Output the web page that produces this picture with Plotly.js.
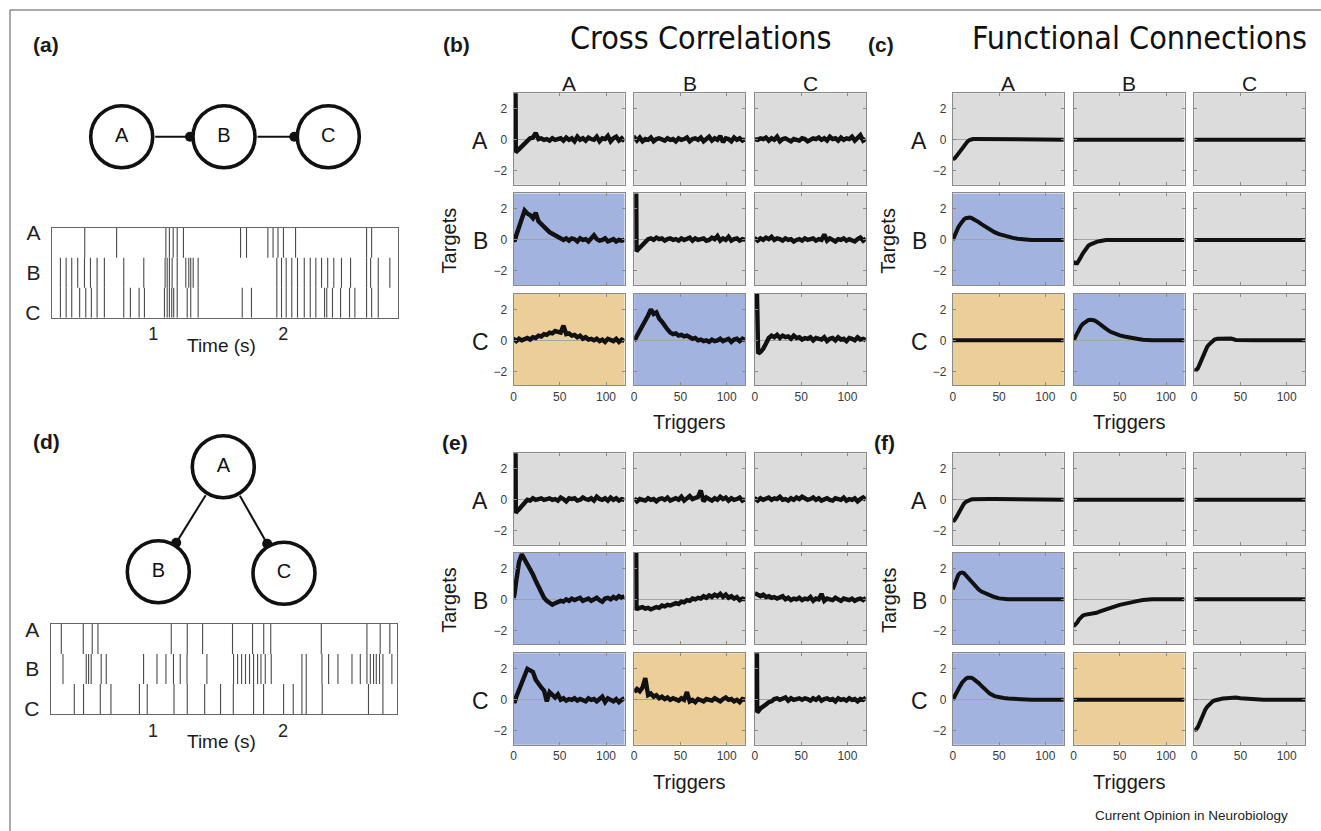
<!DOCTYPE html>
<html><head><meta charset="utf-8">
<script src="https://cdn.plot.ly/plotly-3.0.1.min.js"></script>
<style>html,body{margin:0;padding:0;background:#fff}#fig{width:1321px;height:831px}</style>
</head><body><div id="fig"></div><script>
// ---------------- DATA ----------------
const nodeNames = ['A','B','C'];
const lagsNoisy = [0,1,3,6,9,12,15,18,21,24,27,30,33,36,39,42,45,48,51,54,57,60,63,66,69,72,75,78,81,84,87,90,93,96,99,102,105,108,111,114,117,120];
const lagsAuto  = [2.2,2.5,3.5,6,9,12,15,18,21,24,27,30,33,36,39,42,45,48,51,54,57,60,63,66,69,72,75,78,81,84,87,90,93,96,99,102,105,108,111,114,117,120];
const lagsSmooth = [0,2,4,6,8,10,12,14,16,18,20,22,25,28,31,35,40,45,50,55,60,65,70,75,80,85,90,95,100,110,120];
const lagsFlat = [0,120];
const zeroFlat = [0,0];

// (b) cross correlations, chain network A->B->C (row = target, col = trigger)
const b_AA = [3.2,-0.8, -0.75,-0.6,-0.4,-0.25,-0.05,0.1, 0.15,0.45,0.05,0.1,0.0,0.05, -0.05,0.1,0.0,0.05,0.1,-0.05, 0.15,0.0,0.1,-0.1,0.2,0.0, 0.1,-0.05,0.15,0.05,0.0,0.2, -0.1,0.1,0.05,0.25,-0.1,0.1, 0.2,-0.05,0.1,-0.1];
const b_AB = [0.0,0.1, -0.05,0.15,-0.1,0.05,0.0,0.15, -0.1,0.05,0.1,0.0,-0.05,0.1, 0.0,0.05,-0.1,0.1,0.0,0.05, 0.15,-0.1,0.05,0.1,0.0,0.15, -0.1,0.05,0.2,-0.05,0.1,0.0, 0.25,-0.15,0.1,0.05,-0.1,0.15, 0.0,0.1,-0.05,0.05];
const b_AC = [0.05,0.05, 0.0,0.1,0.05,0.15,-0.05,0.1, 0.0,0.2,-0.1,0.05,0.1,0.0, -0.1,0.05,0.0,-0.05,0.1,0.05, -0.1,0.0,0.1,0.05,0.15,0.0, 0.1,-0.05,0.2,0.05,0.1,-0.05, 0.15,0.0,0.1,0.05,0.2,-0.05, 0.1,0.3,-0.05,0.05];
const b_BA = [0.0,-0.1, 0.3,0.9,1.5,1.9,1.7,1.6, 1.4,1.75,1.2,1.0,0.9,0.7, 0.5,0.4,0.3,0.2,0.1,0.0, 0.1,-0.05,0.1,0.05,-0.1,0.1, 0.0,0.05,-0.1,0.1,0.3,0.05, -0.05,0.0,0.1,-0.1,0.0,0.05, -0.1,0.0,-0.05,0.0];
const b_BB = [3.2,-0.75, -0.65,-0.5,-0.3,-0.1,0.05,0.1, 0.0,0.15,0.05,0.1,-0.05,0.05, 0.1,0.0,0.05,-0.05,0.1,0.0, 0.05,0.15,-0.05,0.1,0.0,0.05, 0.1,-0.05,0.0,0.15,0.05,0.25, -0.05,0.1,0.0,0.2,-0.05,0.05, 0.1,-0.05,0.05,0.0];
const b_BC = [0.0,0.05, -0.05,0.1,0.0,0.15,0.05,0.2, 0.0,0.1,0.05,-0.05,0.1,0.0, 0.05,-0.1,0.0,0.05,-0.05,0.1, 0.0,0.05,0.1,-0.05,0.05,0.0, 0.35,-0.05,0.1,0.0,-0.1,0.05, 0.0,0.1,-0.05,0.05,0.0,-0.1, 0.05,0.15,-0.05,0.1];
const b_CA = [0.0,0.05, -0.05,0.1,0.0,0.05,0.15,0.05, 0.2,0.15,0.3,0.25,0.4,0.35, 0.5,0.45,0.6,0.55,0.5,0.95, 0.4,0.45,0.3,0.35,0.2,0.3, 0.1,0.2,0.05,0.1,0.0,0.1, -0.05,0.05,-0.1,0.1,0.0,-0.05, 0.1,-0.1,0.05,-0.05];
const b_CB = [0.0,0.05, 0.3,0.6,0.9,1.2,1.6,2.0, 1.7,1.8,1.4,1.2,0.9,0.7, 0.5,0.4,0.45,0.3,0.35,0.25, 0.3,0.2,0.1,0.15,0.0,0.05, -0.05,0.0,-0.1,0.05,-0.05,0.0, 0.1,-0.05,0.05,0.1,-0.1,0.05, 0.1,-0.05,0.1,0.0];
const b_CC = [3.2,-0.85, -0.85,-0.75,-0.55,-0.2,0.15,0.3, 0.2,0.35,0.15,0.3,0.2,0.25, 0.1,0.3,0.15,0.2,0.05,0.15, 0.1,0.2,0.0,0.15,0.1,0.05, 0.2,-0.05,0.1,0.15,0.0,0.2, 0.05,0.1,-0.05,0.15,0.1,0.0, 0.2,0.05,0.1,0.0];

// (c) functional connections, chain network
const c_AA = [-1.25,-1.2,-1.05,-0.9,-0.75,-0.55,-0.35,-0.2,-0.1,-0.02,0.03, 0.05,0.06,0.06,0.06,0.06, 0.06,0.06,0.06,0.06,0.06,0.06,0.06,0.06,0.06,0.06,0.06, 0,0,0,0];
const c_BA = [0.0,0.3,0.6,0.82,1.0,1.18,1.32,1.4,1.45,1.45,1.42, 1.37,1.27,1.15,1.02,0.85, 0.65,0.5,0.37,0.27,0.19,0.13,0.08,0.04,0,0,0, 0,0,0,0];
const c_BB = [-1.4,-1.5,-1.5,-1.35,-1.1,-0.88,-0.68,-0.5,-0.38,-0.3,-0.24, -0.19,-0.13,-0.08,-0.04,0, 0,0,0,0,0,0,0,0,0,0,0, 0,0,0,0];
const c_CB = [0.0,0.25,0.5,0.72,0.9,1.05,1.15,1.24,1.3,1.33,1.34, 1.3,1.2,1.05,0.92,0.75, 0.55,0.42,0.32,0.25,0.18,0.13,0.09,0.04,0,0,0, 0,0,0,0];
const c_CC = [-1.9,-1.92,-1.8,-1.5,-1.15,-0.85,-0.6,-0.42,-0.27,-0.14,-0.04, 0.05,0.1,0.11,0.11,0.11, 0.11,0.02,0,0,0,0,0,0,0,0,0, 0,0,0,0];

// (e) cross correlations, common-input network A->B, A->C
const e_AA = [3.2,-0.85, -0.75,-0.6,-0.4,-0.2,0.0,-0.05, 0.1,0.0,0.05,0.1,0.0,0.05, 0.1,0.0,0.05,-0.05,0.15,0.05, -0.1,0.1,0.05,0.1,-0.05,0.0, 0.15,0.05,0.0,0.1,-0.05,0.2, 0.05,0.0,0.1,-0.05,0.15,0.0, 0.1,-0.05,0.05,0.0];
const e_AB = [0.1,0.05, -0.1,0.05,0.0,-0.05,0.1,0.0, 0.05,-0.1,0.05,0.1,0.0,0.15, -0.05,0.05,0.1,0.0,0.2,-0.05, 0.1,0.25,0.05,0.15,0.2,0.6, -0.1,0.15,0.05,-0.05,0.1,0.0, 0.2,0.05,0.15,-0.05,0.1,0.0, 0.05,0.15,-0.05,0.05];
const e_AC = [0.0,0.05, -0.05,0.1,0.0,0.05,0.15,0.0, 0.1,0.05,0.2,0.0,0.05,-0.05, 0.1,0.0,0.15,0.05,0.2,0.1, 0.0,0.05,0.15,0.0,0.1,-0.05, 0.05,0.1,0.0,-0.05,0.1,0.05, 0.0,0.15,-0.05,0.05,0.0,0.1, -0.1,0.05,0.15,0.0];
const e_BA = [0.1,0.3, 1.2,2.4,2.9,2.6,2.3,2.0, 1.6,1.2,0.8,0.4,0.1,-0.1, -0.2,-0.35,-0.25,-0.2,-0.1,-0.15, 0.0,-0.1,0.05,-0.05,0.0,0.1, -0.1,0.0,0.05,-0.1,0.0,0.1, -0.05,-0.15,0.05,0.1,0.0,0.15, 0.05,0.2,0.1,0.2];
const e_BB = [3.2,-0.7, -0.6,-0.55,-0.5,-0.6,-0.55,-0.65, -0.6,-0.5,-0.55,-0.4,-0.45,-0.35, -0.4,-0.3,-0.25,-0.3,-0.15,-0.2, -0.05,-0.1,0.05,0.0,0.1,0.05, 0.2,0.1,0.25,0.15,0.3,0.2, 0.35,0.15,0.3,0.1,0.2,0.05, 0.15,-0.05,0.05,0.0];
const e_BC = [0.4,0.35, 0.3,0.2,0.3,0.15,0.2,0.1, 0.15,0.05,0.1,0.2,0.0,0.1, -0.05,0.05,0.0,0.1,-0.05,0.05, 0.0,0.15,-0.1,0.05,0.0,0.35, -0.1,0.05,0.0,-0.05,0.1,0.0, -0.1,0.05,0.0,-0.05,0.05,-0.1, 0.0,0.05,-0.05,0.1];
const e_CA = [0.0,-0.2, 0.2,0.7,1.2,1.7,2.0,1.9, 1.8,1.3,1.0,0.8,0.6,-0.1, 0.5,0.3,0.15,0.35,0.0,0.1, -0.05,0.05,0.0,0.1,-0.05,0.05, 0.0,-0.1,0.1,0.0,0.05,-0.1, 0.05,0.2,-0.15,0.1,0.0,-0.1, 0.05,-0.15,0.0,0.1];
const e_CB = [0.5,0.6, 0.7,0.55,0.8,1.4,0.3,0.4, 0.2,0.3,0.1,0.2,0.05,0.15, 0.0,0.1,0.05,-0.05,0.1,0.0, 0.5,-0.1,0.0,-0.15,0.05,0.0, -0.1,0.05,0.0,-0.05,0.1,0.0, -0.1,0.05,0.15,0.0,0.05,-0.1, 0.0,-0.15,0.05,0.0];
const e_CC = [3.2,-0.8, -0.75,-0.55,-0.45,-0.3,-0.15,-0.1, 0.05,0.1,0.0,0.05,0.15,-0.05, 0.1,0.0,0.05,0.1,0.0,0.1, 0.05,-0.05,0.1,0.0,0.15,-0.05, 0.05,0.1,0.0,0.05,-0.1,0.1, 0.0,0.05,-0.05,0.1,0.0,0.05, -0.1,0.05,0.0,0.15];

// (f) functional connections, common-input network
const f_AA = [-1.4,-1.3,-1.1,-0.85,-0.6,-0.4,-0.25,-0.14,-0.07,-0.02,0.02, 0.04,0.05,0.05,0.05,0.05, 0.05,0.05,0.05,0.05,0.05,0.05,0.05,0.05,0.05,0.05,0.05, 0,0,0,0];
const f_BA = [0.65,1.0,1.35,1.58,1.7,1.73,1.68,1.55,1.4,1.25,1.1, 0.97,0.8,0.63,0.5,0.38, 0.26,0.15,0.06,0,0,0,0,0,0,0,0, 0,0,0,0];
const f_BB = [-1.75,-1.65,-1.5,-1.3,-1.15,-1.05,-1.0,-0.98,-1.0,-1.0,-0.97, -0.93,-0.87,-0.8,-0.73,-0.65, -0.55,-0.45,-0.36,-0.28,-0.21,-0.15,-0.1,-0.05,-0.01,0,0, 0,0,0,0];
const f_CA = [0.0,0.25,0.5,0.7,0.9,1.1,1.25,1.36,1.43,1.45,1.43, 1.37,1.25,1.08,0.9,0.66, 0.4,0.24,0.16,0.12,0.09,0.06,0.04,0.01,0,0,0, 0,0,0,0];
const f_CC = [-1.95,-1.92,-1.75,-1.45,-1.15,-0.88,-0.63,-0.45,-0.3,-0.19,-0.1, -0.04,0.02,0.06,0.08,0.1, 0.12,0.15,0.1,0.07,0.06,0.06,0.02,0,0,0,0, 0,0,0,0];

// spike rasters (seconds)
const chainSpikesA = [0.474,0.719,1.098,1.125,1.154,1.185,1.233,1.672,1.718,1.882,1.922,1.960,2.002,2.095,2.641,2.680];
const chainSpikesB = [0.287,0.331,0.374,0.420,0.472,0.518,0.569,0.625,0.774,0.928,1.092,1.108,1.125,1.146,1.185,1.251,1.274,1.289,1.308,1.346,1.951,1.987,2.023,2.066,2.110,2.162,2.208,2.251,2.295,2.342,2.389,2.448,2.518,2.641,2.672,2.731,2.820];
const chainSpikesC = [0.287,0.331,0.374,0.435,0.482,0.525,0.569,0.625,0.774,0.825,0.892,0.933,1.087,1.108,1.125,1.143,1.158,1.185,1.262,1.289,1.346,1.685,1.756,1.951,1.987,2.023,2.066,2.110,2.162,2.208,2.251,2.318,2.335,2.379,2.441,2.510,2.551,2.641,2.680,2.731];
const forkSpikesA = [0.295,0.464,0.533,0.577,1.141,1.264,1.382,1.612,1.766,1.852,1.906,2.295,2.646,2.748,2.822];
const forkSpikesB = [0.308,0.487,0.505,0.525,0.602,0.641,0.928,1.031,1.100,1.158,1.210,1.262,1.415,1.620,1.651,1.682,1.712,1.743,1.774,1.805,1.831,1.864,1.910,2.146,2.179,2.300,2.351,2.423,2.531,2.595,2.646,2.672,2.697,2.718,2.743,2.769,2.838];
const forkSpikesC = [0.395,0.466,0.595,0.677,0.896,0.956,1.162,1.264,1.398,1.520,1.618,1.774,1.851,2.005,2.079,2.146,2.179,2.302,2.658,2.769];
const timeTicks = [1,2];
const panelTicksX = [0,50,100];
const panelTicksY = [-2,0,2];

// network edges (source -> target)
const chainEdges = [['A','B'],['B','C']];
const forkEdges = [['A','B'],['A','C']];

// ---------------- LAYOUT / STYLE ----------------
const W=1321,H=831;
const FONT='"Liberation Sans", Arial, Helvetica, sans-serif';
const NARROW='"Liberation Sans Narrow", "DejaVu Sans Condensed", "Liberation Sans", Arial, sans-serif';
const px=x=>x/W, py=y=>1-y/H;
const BG={g:'#dcdcdc', b:'#a3b3e0', o:'#ecce98'};
const FRAME='#8a8a8a';
const layout={width:W,height:H,margin:{l:0,r:0,t:0,b:0},paper_bgcolor:'#ffffff',plot_bgcolor:'rgba(0,0,0,0)',
  showlegend:false,font:{family:FONT,color:'#222'},shapes:[],annotations:[]};
const traces=[];
let n=0;
function addAxes(x0,x1,yTop,yBot,xo,yo){
  n++; const s=n===1?'':String(n);
  layout['xaxis'+s]=Object.assign({domain:[px(x0),px(x1)],anchor:'y'+s,fixedrange:true},xo);
  layout['yaxis'+s]=Object.assign({domain:[py(yBot),py(yTop)],anchor:'x'+s,fixedrange:true},yo);
  return {x:'x'+s,y:'y'+s};
}
function ann(text,x,y,size,opts){
  layout.annotations.push(Object.assign({text:text,x:px(x),y:py(y),xref:'paper',yref:'paper',showarrow:false,
    xanchor:'center',yanchor:'middle',font:{family:FONT,size:size,color:'#1a1a1a'}},opts||{}));
}

// ---- grids of panels ----
const PW=111, PH=91.5;
const groups=[
  {cols:[513.5,634.2,754.9], rows:[93.3,193.4,293.8], colLabels:true, noisy:true,
   cells:[[b_AA,b_AB,b_AC],[b_BA,b_BB,b_BC],[b_CA,b_CB,b_CC]],
   bg:[['g','g','g'],['b','g','g'],['o','b','g']]},
  {cols:[952.8,1073.5,1194.2], rows:[93.3,193.4,293.8], colLabels:true, noisy:false,
   cells:[[c_AA,zeroFlat,zeroFlat],[c_BA,c_BB,zeroFlat],[zeroFlat,c_CB,c_CC]],
   bg:[['g','g','g'],['b','g','g'],['o','b','g']]},
  {cols:[513.5,634.2,754.9], rows:[453.3,552.8,653.3], colLabels:false, noisy:true,
   cells:[[e_AA,e_AB,e_AC],[e_BA,e_BB,e_BC],[e_CA,e_CB,e_CC]],
   bg:[['g','g','g'],['b','g','g'],['b','o','g']]},
  {cols:[952.8,1073.5,1194.2], rows:[453.3,552.8,653.3], colLabels:false, noisy:false,
   cells:[[f_AA,zeroFlat,zeroFlat],[f_BA,f_BB,zeroFlat],[f_CA,zeroFlat,f_CC]],
   bg:[['g','g','g'],['b','g','g'],['b','o','g']]}
];
groups.forEach(g=>{
  for(let r=0;r<3;r++){
    for(let c=0;c<3;c++){
      const x0=g.cols[c], y0=g.rows[r];
      const common={ticks:'inside',ticklen:3,tickcolor:FRAME,showline:true,linecolor:FRAME,linewidth:1,
        mirror:'allticks',showgrid:false,tickfont:{family:FONT,size:12,color:'#3a3a3a'}};
      const ax=addAxes(x0,x0+PW,y0,y0+PH,
        Object.assign({},common,{range:[0,120],tickvals:panelTicksX,zeroline:false,showticklabels:r===2}),
        Object.assign({},common,{range:[-2.9,3.0],tickvals:panelTicksY,zeroline:true,zerolinecolor:'#a4a4a4',
          zerolinewidth:1,showticklabels:c===0,ticklabelstandoff:3}));
      layout.shapes.push({type:'rect',xref:ax.x+' domain',yref:ax.y+' domain',x0:0,x1:1,y0:0,y1:1,
        fillcolor:BG[g.bg[r][c]],line:{width:0},layer:'below'});
      const vals=g.cells[r][c];
      let lags;
      if(vals===zeroFlat) lags=lagsFlat;
      else if(!g.noisy) lags=lagsSmooth;
      else lags = (r===c) ? lagsAuto : lagsNoisy;
      traces.push({type:'scatter',mode:'lines',x:lags,y:vals,xaxis:ax.x,yaxis:ax.y,
        line:{color:'#111111',width:g.noisy?4.4:4.0},hoverinfo:'skip',cliponaxis:true});
    }
    ann(nodeNames[r], g.cols[0]-33.5, g.rows[r]+48, 23);
  }
  if(g.colLabels){ for(let c=0;c<3;c++) ann(nodeNames[c], g.cols[c]+PW/2, g.rows[0]-9.5, 21); }
  ann('Targets', g.cols[0]-64.5, g.rows[1]+47, 20, {textangle:-90});
  ann('Triggers', g.cols[1]+PW/2, g.rows[2]+PH+37, 20);
});

// ---- spike rasters ----
function raster(box, range, spikes){
  const ax=addAxes(box[0],box[1],box[2],box[3],
    {range:range,tickvals:timeTicks,ticks:'',showline:true,mirror:true,linecolor:'#666',linewidth:1,
     showgrid:false,zeroline:false,tickfont:{family:FONT,size:18,color:'#222'}},
    {range:[0,3],tickvals:[2.82,1.5,0.18],ticktext:nodeNames,ticks:'',showline:true,mirror:true,linecolor:'#666',
     linewidth:1,showgrid:false,zeroline:false,tickfont:{family:FONT,size:21,color:'#222'},ticklabelstandoff:6});
  spikes.forEach((times,i)=>{
    const top=3-i, bot=2-i, xs=[], ys=[];
    times.forEach(t=>{xs.push(t,t,null); ys.push(bot,top,null);});
    traces.push({type:'scatter',mode:'lines',x:xs,y:ys,xaxis:ax.x,yaxis:ax.y,
      line:{color:'#4a4a4a',width:1.1},hoverinfo:'skip',connectgaps:false});
  });
  ann('Time (s)', 221, box[3]+27.5, 19);
}
raster([51.7,398.3,227.7,317.7],[0.22,2.885],[chainSpikesA,chainSpikesB,chainSpikesC]);
raster([50.5,396.7,624,714],[0.212,2.875],[forkSpikesA,forkSpikesB,forkSpikesC]);

// ---- network diagrams ----
function network(box, pos, edges){
  const ax=addAxes(box[0],box[1],box[2],box[3],
    {range:[box[0],box[1]],visible:false},
    {range:[box[3],box[2]],visible:false});
  const R=33.5;
  const ex=[], ey=[], dx=[], dy=[];
  edges.forEach(([s,t])=>{
    const a=pos[s], b=pos[t];
    const L=Math.hypot(b[0]-a[0],b[1]-a[1]), ux=(b[0]-a[0])/L, uy=(b[1]-a[1])/L;
    ex.push(a[0]+ux*R, b[0]-ux*(R+1), null); ey.push(a[1]+uy*R, b[1]-uy*(R+1), null);
    dx.push(b[0]-ux*(R+0.5)); dy.push(b[1]-uy*(R+0.5));
  });
  traces.push({type:'scatter',mode:'lines',x:ex,y:ey,xaxis:ax.x,yaxis:ax.y,line:{color:'#111',width:2},hoverinfo:'skip'});
  traces.push({type:'scatter',mode:'markers',x:dx,y:dy,xaxis:ax.x,yaxis:ax.y,marker:{color:'#111',size:10},hoverinfo:'skip'});
  traces.push({type:'scatter',mode:'markers+text',x:nodeNames.map(k=>pos[k][0]),y:nodeNames.map(k=>pos[k][1]),
    text:nodeNames,textposition:'middle center',textfont:{family:FONT,size:20,color:'#111'},
    xaxis:ax.x,yaxis:ax.y,marker:{color:'#ffffff',size:62,line:{color:'#111',width:3.6}},hoverinfo:'skip',cliponaxis:false});
}
network([70,380,90,185],{A:[121.7,136.7],B:[224,136.7],C:[328.3,136.7]},chainEdges);
network([110,340,425,615],{A:[223.3,466.7],B:[158.3,571.7],C:[284,573.3]},forkEdges);

// ---- titles, letters, footer ----
ann('Cross Correlations', 701, 38, 32, {font:{family:NARROW,size:32,color:'#111'}});
ann('Functional Connections', 1139, 38, 32, {font:{family:NARROW,size:32,color:'#111'}});
[['(a)',46,44],['(b)',456,45],['(c)',881,45],['(d)',46,441],['(e)',455,442],['(f)',884,442]].forEach(l=>{
  ann('<b>'+l[0]+'</b>', l[1], l[2], 21);
});
ann('Current Opinion in Neurobiology', 1191, 815, 13.5, {font:{family:FONT,size:13.5,color:'#222'}});

// figure frame (top and left rules)
layout.shapes.push({type:'line',xref:'paper',yref:'paper',x0:px(10),x1:1,y0:py(10),y1:py(10),line:{color:'#555',width:1}});
layout.shapes.push({type:'line',xref:'paper',yref:'paper',x0:px(10),x1:px(10),y0:py(10),y1:0,line:{color:'#555',width:1}});

Plotly.newPlot('fig',traces,layout,{staticPlot:true,displayModeBar:false});
</script></body></html>
